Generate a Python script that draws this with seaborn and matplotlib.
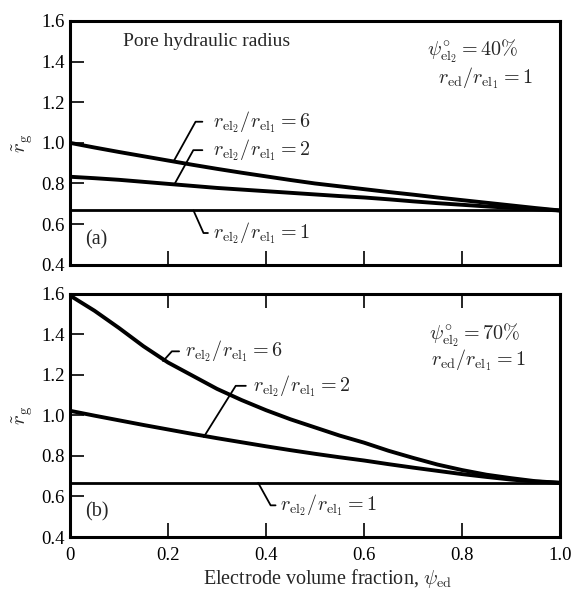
import matplotlib
matplotlib.use("Agg")
import matplotlib.pyplot as plt
import seaborn as sns
import pandas as pd

# ---------------- data ----------------
x_curve = [0.0, 0.05, 0.1, 0.15, 0.2, 0.25, 0.3, 0.35, 0.4, 0.45, 0.5,
           0.55, 0.6, 0.65, 0.7, 0.75, 0.8, 0.85, 0.9, 0.95, 1.0]
x_flat = [0.0, 1.0]

# panel (a): psi_el2 = 40 %
a_r6 = [1.0, 0.977, 0.955, 0.934, 0.913, 0.892, 0.872, 0.853, 0.835, 0.817, 0.80,
        0.786, 0.772, 0.758, 0.745, 0.731, 0.718, 0.705, 0.692, 0.679, 0.667]
a_r2 = [0.833, 0.826, 0.818, 0.808, 0.798, 0.788, 0.778, 0.770, 0.762, 0.754, 0.746,
        0.738, 0.731, 0.722, 0.712, 0.703, 0.695, 0.687, 0.680, 0.673, 0.667]
a_r1 = [0.667, 0.667]

# panel (b): psi_el2 = 70 %
b_r6 = [1.59, 1.515, 1.43, 1.34, 1.26, 1.195, 1.13, 1.075, 1.025, 0.98, 0.94,
        0.90, 0.865, 0.825, 0.79, 0.757, 0.73, 0.707, 0.69, 0.675, 0.667]
b_r2 = [1.022, 0.998, 0.975, 0.952, 0.93, 0.908, 0.887, 0.867, 0.847, 0.828, 0.81,
        0.793, 0.777, 0.759, 0.742, 0.726, 0.71, 0.696, 0.683, 0.673, 0.667]
b_r1 = [0.667, 0.667]

y_ticks = [0.4, 0.6, 0.8, 1.0, 1.2, 1.4, 1.6]
x_ticks = [0.0, 0.2, 0.4, 0.6, 0.8, 1.0]
x_ticklabels = ["0", "0.2", "0.4", "0.6", "0.8", "1.0"]

lab6 = r"$r_{\mathrm{el}_2}/r_{\mathrm{el}_1} = 6$"
lab2 = r"$r_{\mathrm{el}_2}/r_{\mathrm{el}_1} = 2$"
lab1 = r"$r_{\mathrm{el}_2}/r_{\mathrm{el}_1} = 1$"
ratio_text = r"$r_{\mathrm{ed}}/r_{\mathrm{el}_1} = 1$"
psi_a = r"$\psi^{\circ}_{\mathrm{el}_2} = 40\%$"
psi_b = r"$\psi^{\circ}_{\mathrm{el}_2} = 70\%$"

# ---------------- style ----------------
sns.set_theme(style="ticks")
plt.rcParams["font.family"] = ["Liberation Serif", "DejaVu Serif"]
plt.rcParams["mathtext.fontset"] = "cm"
plt.rcParams["axes.linewidth"] = 2.2

W, H = 573, 589
fig = plt.figure(figsize=(W / 100, H / 100), dpi=100)
ax_a = fig.add_axes([70 / W, 1 - 264.7 / H, 490 / W, 243.7 / H])
ax_b = fig.add_axes([70 / W, 1 - 537 / H, 490 / W, 243.5 / H])

FS = 14.5


def draw(ax, r6, r2, r1):
    df6 = pd.DataFrame({"x": x_curve, "y": r6})
    df2 = pd.DataFrame({"x": x_curve, "y": r2})
    df1 = pd.DataFrame({"x": x_flat, "y": r1})
    sns.lineplot(data=df6, x="x", y="y", ax=ax, color="black", lw=2.8, sort=False)
    sns.lineplot(data=df2, x="x", y="y", ax=ax, color="black", lw=2.8, sort=False)
    sns.lineplot(data=df1, x="x", y="y", ax=ax, color="black", lw=2.0, sort=False)
    ax.set_xlim(0, 1.0)
    ax.set_ylim(0.4, 1.6)
    ax.set_yticks(y_ticks)
    ax.set_yticklabels([f"{v:.1f}" for v in y_ticks])
    ax.set_xticks(x_ticks)
    ax.tick_params(axis="both", direction="in", length=10, width=1.2,
                   labelsize=13.5, colors="black")
    ax.tick_params(axis="y", pad=4)
    ax.tick_params(axis="x", pad=7)
    for s in ax.spines.values():
        s.set_linewidth(2.2)
        s.set_color("black")
    ax.set_ylabel(r"$\tilde{r}_{\mathrm{g}}$", fontsize=15, rotation=90)
    ax.yaxis.set_label_coords(-0.072, 0.5)


def leader(ax, text, xy, xytext, angle, gap):
    ax.annotate(text, xy=xy, xytext=xytext, ha="left", va="center", fontsize=FS,
                arrowprops=dict(arrowstyle="-", color="black", lw=1.3,
                                connectionstyle=f"angle,angleA=0,angleB={angle},rad=0",
                                relpos=(0, 0.5), shrinkA=gap, shrinkB=0))


draw(ax_a, a_r6, a_r2, a_r1)
draw(ax_b, b_r6, b_r2, b_r1)

# panel a specifics
ax_a.tick_params(axis="x", labelbottom=False)
ax_a.set_xlabel("")
ax_a.text(0.108, 1.498, "Pore hydraulic radius", fontsize=14, ha="left", va="center")
ax_a.text(0.822, 1.449, psi_a, fontsize=FS, ha="center", va="center")
ax_a.text(0.847, 1.319, ratio_text, fontsize=FS, ha="center", va="center")
ax_a.text(0.03, 0.521, "(a)", fontsize=14.5, ha="left", va="center")
leader(ax_a, lab6, (0.211, 0.907), (0.291, 1.104), 61, 5)
leader(ax_a, lab2, (0.214, 0.800), (0.291, 0.964), 61, 5)
leader(ax_a, lab1, (0.252, 0.667), (0.291, 0.556), -66, 1)

# panel b specifics
ax_b.tick_params(axis="x", top=True)
ax_b.set_xticklabels(x_ticklabels)
ax_b.set_xlabel(r"Electrode volume fraction, $\psi_{\mathrm{ed}}$", fontsize=14.5)
ax_b.xaxis.set_label_coords(0.525, -0.125)
ax_b.text(0.827, 1.395, psi_b, fontsize=FS, ha="center", va="center")
ax_b.text(0.834, 1.270, ratio_text, fontsize=FS, ha="center", va="center")
ax_b.text(0.03, 0.522, "(b)", fontsize=14.5, ha="left", va="center")
leader(ax_b, lab6, (0.190, 1.267), (0.235, 1.315), 48, 2)
leader(ax_b, lab2, (0.273, 0.893), (0.374, 1.145), 58, 3)
leader(ax_b, lab1, (0.384, 0.667), (0.429, 0.556), -61, 1)

fig.savefig("out.png", dpi=100, facecolor="white")
